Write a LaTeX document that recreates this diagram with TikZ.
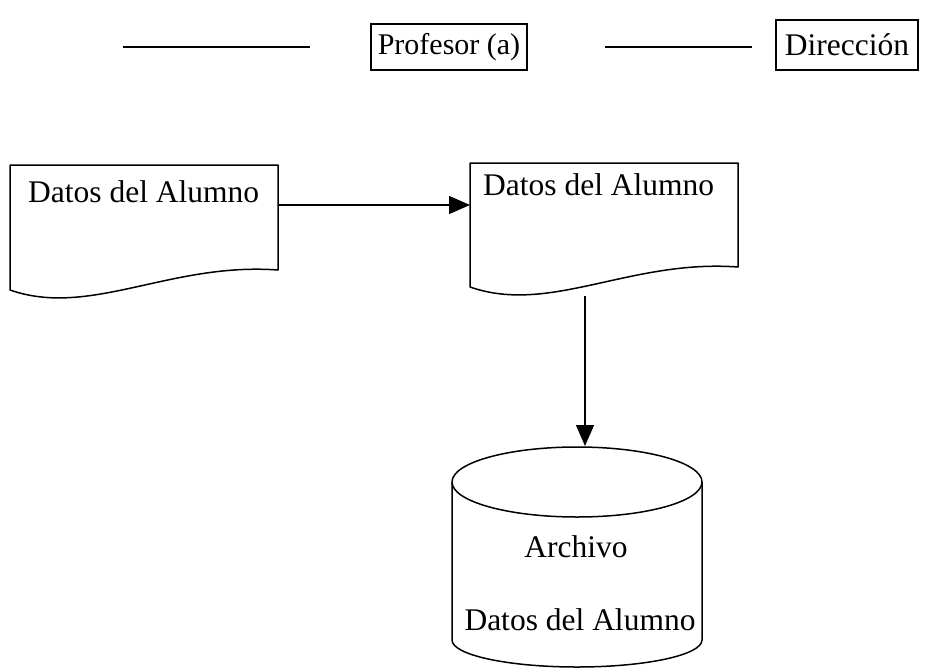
\documentclass[tikz,border=0pt]{standalone}
\usepackage{fontspec}
\setmainfont{Liberation Serif}
\usetikzlibrary{arrows.meta}
\begin{document}
\begin{tikzpicture}[x=1pt,y=-1pt,
  every node/.style={font=\fontsize{31.5}{38}\selectfont, inner sep=0pt},
  lbox/.style={draw, line width=1.3pt, minimum height=46pt},
  shp/.style={line width=1.5pt, line join=round},
  conn/.style={line width=1.3pt, -{Triangle[length=21pt,width=18pt]}},
  rule/.style={line width=1.5pt}]
\useasboundingbox (0,0) rectangle (934,669);
% top row
\coordinate (l1a) at (123,47);
\coordinate (l1b) at (310,47);
\draw[rule] (l1a) -- (l1b);
\node[lbox, minimum width=156pt, font=\fontsize{30}{36}\selectfont] (prof) at (449,47) {Profesor (a)};
\coordinate (l2a) at (605,47);
\coordinate (l2b) at (752,47);
\draw[rule] (l2a) -- (l2b);
\node[lbox, minimum width=142pt, minimum height=50pt] (dir) at (847,45) {Dirección};
% document 1
\draw[shp] (10,165) -- (278,165) -- (278,270)
  .. controls (170,262) and (90,318) .. (10,290) -- cycle;
\coordinate (d1r) at (278,205);
\node[anchor=base west] (doc1) at (28,202) {Datos del Alumno};
% document 2
\draw[shp] (470,163) -- (738,163) -- (738,267)
  .. controls (630,259) and (550,315) .. (470,287) -- cycle;
\coordinate (d2l) at (470,205);
\coordinate (d2b) at (585,296);
\node[anchor=base west] (doc2) at (483,195) {Datos del Alumno};
% cylinder
\draw[shp] (452,482) arc[start angle=180, end angle=-180, x radius=125, y radius=35];
\draw[shp] (452,482) -- (452,640) arc[start angle=180, end angle=0, x radius=125, y radius=27] -- (702,482);
\coordinate (cyltop) at (585,446);
\node[anchor=base] (arch) at (576,557) {Archivo};
\node[anchor=base] (arch2) at (580,630) {Datos del Alumno};
% connectors
\draw[conn] (d1r) -- (d2l);
\draw[conn] (d2b) -- (cyltop);
\end{tikzpicture}
\end{document}
